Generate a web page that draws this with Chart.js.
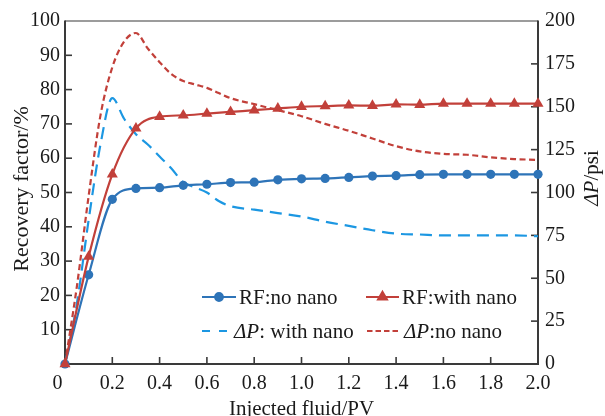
<!DOCTYPE html>
<html><head><meta charset="utf-8">
<script src="https://cdn.jsdelivr.net/npm/chart.js@4.4.0/dist/chart.umd.min.js"></script>
<style>html,body{margin:0;padding:0;background:#fff}#wrap{width:605px;height:416px;position:relative}</style>
</head><body><div id="wrap"><canvas id="c" width="605" height="416"></canvas></div>
<script>
// ---- data ----
const rfX = [0,0.1,0.2,0.3,0.4,0.5,0.6,0.7,0.8,0.9,1.0,1.1,1.2,1.3,1.4,1.5,1.6,1.7,1.8,1.9,2.0];
const rfNoNano = [0,26,48,51.2,51.4,52.1,52.4,52.9,53.0,53.7,54.0,54.1,54.4,54.8,54.9,55.2,55.3,55.3,55.3,55.3,55.3];
const rfWithNano = [0,31.3,55.3,68.7,72.1,72.5,73.0,73.5,74.0,74.5,75.0,75.2,75.4,75.3,75.7,75.6,75.9,75.9,75.9,75.9,75.9];
const dpX = [0,0.05,0.1,0.15,0.2,0.25,0.3,0.35,0.4,0.45,0.5,0.55,0.6,0.65,0.7,0.8,0.9,1.0,1.1,1.2,1.3,1.4,1.5,1.6,1.7,1.8,1.9,2.0];
const dpWithNano = [0,35,84,128,155,143,134,128,121,114,106,103,100,95,92,90,88,86,83,80.5,78,76,75.5,75,75,75,75,74.5];
const dpNoNano = [0,45,98,145,173,188,193,184,176,169,165,163,161,158,155,151.5,148,144.5,140,136,131.5,127,124,122.5,122,120.5,119.5,119];
const seriesLabels = ['RF:no nano','RF:with nano','ΔP: with nano','ΔP:no nano'];
const xTitle = 'Injected fluid/PV';
const yTitle = 'Recovery factor/%';
const y2Title = 'ΔP/psi';

const BLUE = '#2E74B8', RED = '#C2403A', LBLUE = '#1C97E2', AXIS = '#3a3a3a', TXT = '#1a1a1a';
const FONT = "'Liberation Serif','Times New Roman',serif";

const pts = (xs, ys) => xs.map((x, i) => ({x, y: ys[i]}));

const frame = {
  id: 'frame',
  beforeDatasetsDraw(chart) {
    const {ctx, chartArea: a, scales} = chart;
    ctx.save();
    ctx.strokeStyle = AXIS;
    const ln = (x1,y1,x2,y2)=>{ctx.beginPath();ctx.moveTo(x1,y1);ctx.lineTo(x2,y2);ctx.stroke();};
    ctx.lineWidth = 1.2; ln(a.left, a.top, a.right, a.top);
    ctx.lineWidth = 2;
    ln(a.left, a.top - 0.6, a.left, a.bottom + 1);
    ln(a.left - 1, a.bottom, a.right + 1, a.bottom);
    ln(a.right, a.top - 0.6, a.right, a.bottom + 1);
    ctx.lineWidth = 1.6;
    scales.x.ticks.forEach(t => { if (t.value > 0 && t.value < 2) { const p = scales.x.getPixelForValue(t.value); ln(p, a.bottom, p, a.bottom - 7); }});
    scales.y.ticks.forEach(t => { if (t.value > 0 && t.value < 100) { const p = scales.y.getPixelForValue(t.value); ln(a.left, p, a.left + 7, p); }});
    scales.y2.ticks.forEach(t => { if (t.value > 0 && t.value < 200) { const p = scales.y2.getPixelForValue(t.value); ln(a.right, p, a.right - 7, p); }});
    ctx.restore();
  }
};

function segs(label) {
  if (label.startsWith('ΔP')) return [{t:'ΔP', it:true}, {t:label.slice(2), it:false}];
  return [{t:label, it:false}];
}
function richWidth(ctx, s, size) {
  let w = 0;
  s.forEach(p => { ctx.font = (p.it ? 'italic ' : '') + size + 'px ' + FONT; w += ctx.measureText(p.t).width; });
  return w;
}
function drawRich(ctx, s, x, y, size, align) {
  let cx = x;
  if (align === 'center') cx = x - richWidth(ctx, s, size) / 2;
  s.forEach(p => {
    ctx.font = (p.it ? 'italic ' : '') + size + 'px ' + FONT;
    ctx.textAlign = 'left';
    ctx.fillText(p.t, cx, y);
    cx += ctx.measureText(p.t).width;
  });
}

const annot = {
  id: 'annot',
  afterDraw(chart) {
    const {ctx, chartArea: a} = chart;
    ctx.save();
    ctx.fillStyle = TXT;
    ctx.textBaseline = 'alphabetic';
    drawRich(ctx, segs(xTitle), (a.left + a.right) / 2, 415, 21, 'center');
    ctx.textBaseline = 'middle';
    ctx.save(); ctx.translate(22, 189); ctx.rotate(-Math.PI / 2);
    drawRich(ctx, segs(yTitle), 0, 0, 22, 'center'); ctx.restore();
    ctx.save(); ctx.translate(592, 178); ctx.rotate(-Math.PI / 2);
    drawRich(ctx, segs(y2Title), 0, 0, 21, 'center'); ctx.restore();

    // legend
    const pos = [
      {lx1:202, lx2:236, tx:239, y:297},
      {lx1:366, lx2:399, tx:402, y:297},
      {lx1:202, lx2:228, tx:234, y:331},
      {lx1:367, lx2:401, tx:404, y:331}
    ];
    chart.data.datasets.forEach((ds, i) => {
      const p = pos[i];
      ctx.save();
      ctx.strokeStyle = ds.borderColor; ctx.lineWidth = ds.borderWidth;
      ctx.setLineDash(ds.legendDash || []);
      ctx.beginPath(); ctx.moveTo(p.lx1, p.y); ctx.lineTo(p.lx2, p.y); ctx.stroke();
      ctx.setLineDash([]);
      if (ds.pointRadius > 0) {
        Chart.helpers.drawPoint(ctx, {pointStyle: ds.pointStyle, radius: ds.pointStyle === 'triangle' ? 5 : 3.8, borderWidth: 1, rotation: 0}, (p.lx1 + p.lx2) / 2, p.y);
        ctx.fillStyle = ds.backgroundColor; ctx.fill();
      }
      ctx.restore();
      ctx.fillStyle = TXT; ctx.textBaseline = 'middle';
      drawRich(ctx, segs(ds.label), p.tx, p.y + 1, 21, 'left');
    });
    ctx.restore();
  }
};

new Chart(document.getElementById('c'), {
  type: 'line',
  data: {
    datasets: [
      {label: seriesLabels[0], data: pts(rfX, rfNoNano), yAxisID: 'y', borderColor: BLUE, backgroundColor: BLUE,
       borderWidth: 2.2, pointStyle: 'circle', pointRadius: 4.6, pointBorderWidth: 0, clip: false, order: 1, cubicInterpolationMode: 'monotone'},
      {label: seriesLabels[1], data: pts(rfX, rfWithNano), yAxisID: 'y', borderColor: RED, backgroundColor: RED,
       borderWidth: 2.2, pointStyle: 'triangle', pointRadius: 6.4, pointBorderWidth: 0, clip: false, order: 0, cubicInterpolationMode: 'monotone'},
      {label: seriesLabels[2], data: pts(dpX, dpWithNano), yAxisID: 'y2', borderColor: LBLUE, backgroundColor: LBLUE,
       borderWidth: 2.2, borderDash: [12, 7], legendDash: [8, 9], pointRadius: 0, clip: false, order: 3, cubicInterpolationMode: 'monotone'},
      {label: seriesLabels[3], data: pts(dpX, dpNoNano), yAxisID: 'y2', borderColor: RED, backgroundColor: RED,
       borderWidth: 2.2, borderDash: [6, 3.5], legendDash: [5.5, 3], pointRadius: 0, clip: false, order: 2, cubicInterpolationMode: 'monotone'}
    ]
  },
  options: {
    responsive: false, animation: false, events: [],
    layout: {padding: {top: 21, left: 0, right: 0, bottom: 0}},
    plugins: {legend: {display: false}, tooltip: {enabled: false}},
    scales: {
      x: {type: 'linear', min: 0, max: 2, position: 'bottom',
          afterFit: s => { s.height = 52; },
          grid: {display: false, drawTicks: false}, border: {display: false},
          ticks: {stepSize: 0.2, padding: 8, color: TXT, font: {family: FONT, size: 20}, maxRotation: 0, autoSkip: false,
                  callback: v => v === 0 ? '0   ' : v.toFixed(1)}},
      y: {type: 'linear', min: 0, max: 100, position: 'left',
          afterFit: s => { s.width = 65; },
          grid: {display: false, drawTicks: false}, border: {display: false},
          ticks: {stepSize: 10, padding: 5, color: TXT, font: {family: FONT, size: 20},
                  callback: v => v === 0 ? '' : String(v)}},
      y2: {type: 'linear', min: 0, max: 200, position: 'right',
          afterFit: s => { s.width = 67; },
          grid: {display: false, drawTicks: false}, border: {display: false},
          ticks: {stepSize: 25, padding: 7, color: TXT, font: {family: FONT, size: 20}}}
    }
  },
  plugins: [frame, annot]
});
</script></body></html>
